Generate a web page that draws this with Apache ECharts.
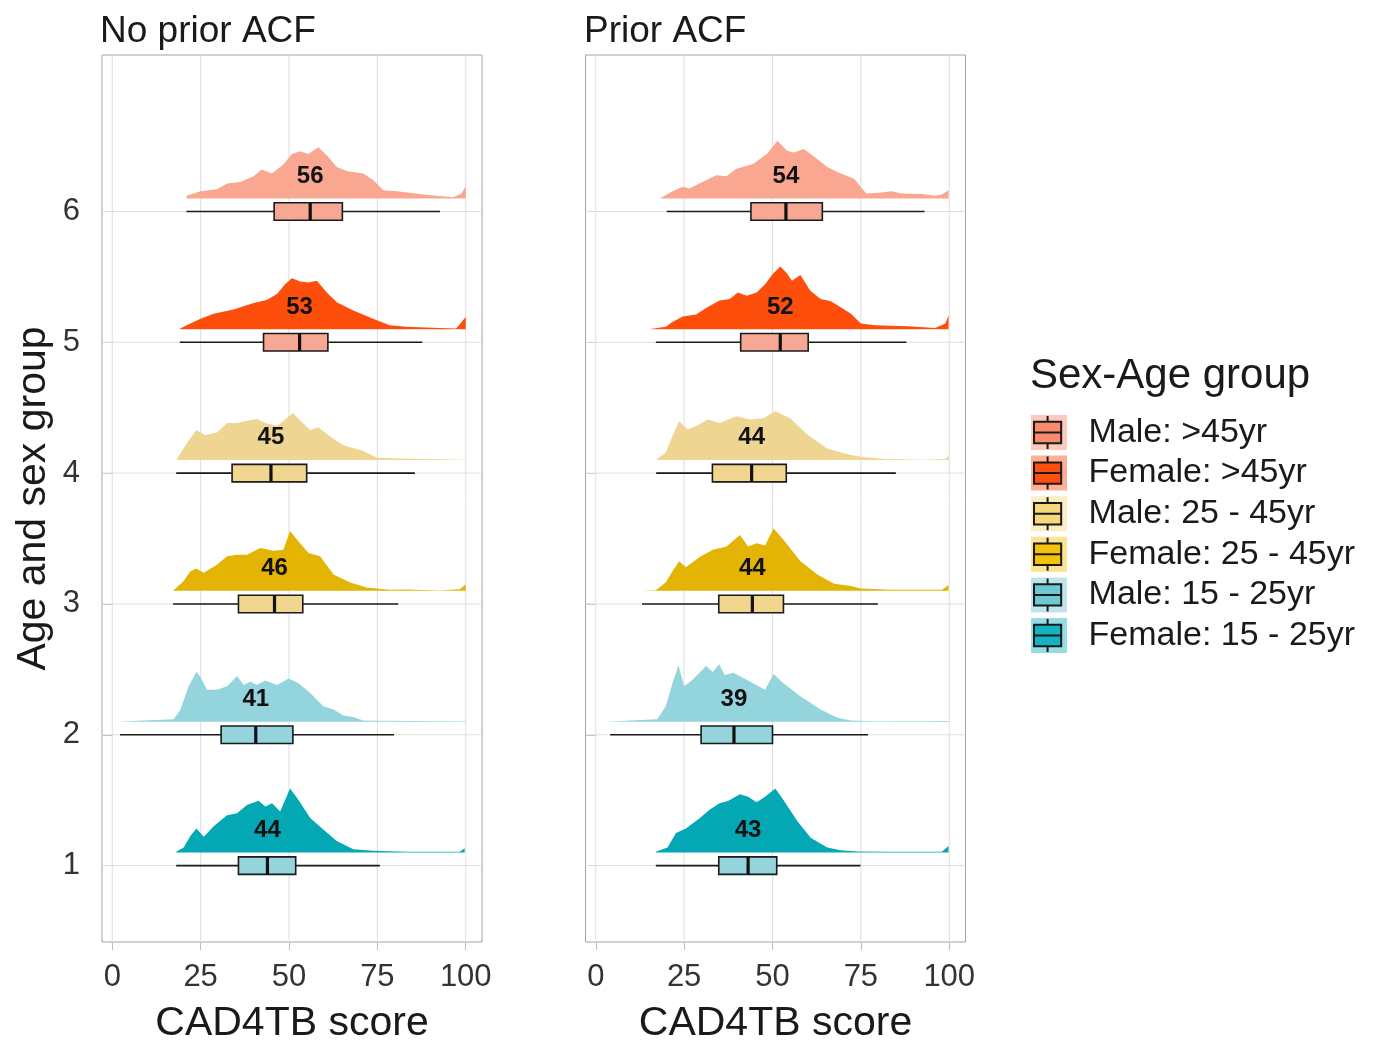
<!DOCTYPE html>
<html lang="en">
<head>
<meta charset="UTF-8">
<title>CAD4TB score by age and sex group</title>
<script src="https://cdn.jsdelivr.net/npm/echarts@6/dist/echarts.min.js"></script>
<style>
  html, body { margin: 0; background: #fff; }
  #main { width: 1374px; height: 1049px; }
</style>
</head>
<body>
<div id="main"></div>
<script>
// groups, bottom (y = 1) to top (y = 6)
var groupNames = ['Female: 15 - 25yr', 'Male: 15 - 25yr', 'Female: 25 - 45yr',
                  'Male: 25 - 45yr', 'Female: >45yr', 'Male: >45yr'];
var legendOrder = ['Male: >45yr', 'Female: >45yr', 'Male: 25 - 45yr',
                   'Female: 25 - 45yr', 'Male: 15 - 25yr', 'Female: 15 - 25yr'];
var panelTitles = ['No prior ACF', 'Prior ACF'];
var xTicks = [0, 25, 50, 75, 100];
var yTicks = [1, 2, 3, 4, 5, 6];

// box stats per group (y = 1..6): [low whisker, q1, median, q3, high whisker]
var boxNoPrior = [[18.1, 35.7, 43.9, 51.9, 75.7], [2.2, 30.8, 40.6, 51.1, 79.7],
                  [17.2, 35.7, 45.9, 53.9, 80.9], [18.1, 33.9, 44.9, 55.0, 85.6],
                  [19.1, 42.8, 53.0, 61.0, 87.7], [21.0, 45.8, 56.0, 65.1, 92.7]];
var boxPrior = [[17.0, 34.8, 43.1, 51.2, 74.9], [4.1, 29.8, 39.1, 50.0, 77.0],
                [13.1, 34.8, 44.3, 53.1, 79.8], [17.1, 33.0, 44.1, 53.9, 84.9],
                [17.0, 41.0, 52.2, 60.1, 87.9], [20.1, 43.9, 53.8, 64.1, 93.0]];

// ridge heights [score, height in group units]
var noPriorF15 = [[18.1,0.005],[20.2,0.038],[22.1,0.126],[23.8,0.183],[25.9,0.12],[28.7,0.2],[32.5,0.284],[35.3,0.3],[38.1,0.364],[41.4,0.395],[43.3,0.352],[45.2,0.377],[47.5,0.314],[50.3,0.49],[52.7,0.402],[56,0.264],[59.7,0.176],[63.5,0.088],[68.2,0.025],[73.8,0.013],[83.2,0.005],[98.3,0.005],[99.7,0.033]];
var noPriorM15 = [[2.5,0.002],[17.4,0.018],[19.3,0.093],[21.6,0.27],[23.8,0.382],[24.9,0.344],[26.8,0.244],[29.6,0.244],[32.5,0.27],[35.3,0.35],[37.2,0.28],[39,0.307],[40.9,0.28],[43.3,0.314],[46.6,0.28],[49.9,0.33],[52.7,0.294],[56,0.22],[59.7,0.118],[62.6,0.093],[65.4,0.048],[68.2,0.035],[71,0.01],[73.8,0.008],[100,0.003]];
var noPriorF25 = [[17.2,0],[20.2,0.075],[22.1,0.15],[23.8,0.17],[25.9,0.138],[29.6,0.2],[32.5,0.264],[35.3,0.276],[38.1,0.276],[41.9,0.327],[45.6,0.307],[48.4,0.314],[50.3,0.457],[52.7,0.377],[55.5,0.29],[58.8,0.264],[62.6,0.126],[67.3,0.063],[72,0.025],[78.5,0.008],[83.2,0.01],[92.7,0.003],[98.3,0.013],[100,0.05]];
var noPriorM25 = [[18.1,0],[21.2,0.133],[23.8,0.229],[26.3,0.19],[29.6,0.21],[32.5,0.284],[35.3,0.284],[38.1,0.3],[41,0.314],[43.3,0.284],[46.6,0.26],[48.9,0.31],[51.1,0.36],[53.6,0.29],[56,0.23],[58.3,0.25],[61.6,0.18],[65.4,0.113],[71,0.07],[74.8,0.02],[78.5,0.013],[88,0.008],[100,0.003]];
var noPriorF45 = [[19.1,0.003],[22.1,0.043],[25,0.08],[28.7,0.118],[34.3,0.15],[40,0.2],[43.7,0.224],[46.6,0.27],[48.9,0.344],[50.8,0.39],[53.2,0.364],[55.5,0.357],[57.9,0.37],[60.7,0.28],[63.5,0.206],[68.2,0.143],[73.8,0.08],[78.5,0.03],[83.2,0.018],[92.7,0.01],[97.3,0.005],[100,0.093]];
var noPriorM45 = [[21,0.02],[25,0.055],[29.6,0.07],[32.5,0.113],[36.2,0.126],[40,0.17],[42.3,0.22],[45.2,0.19],[48.5,0.26],[50.8,0.34],[53.2,0.36],[55.5,0.34],[58.3,0.39],[60.7,0.33],[63.5,0.24],[66.3,0.21],[71,0.19],[73.8,0.14],[76.7,0.063],[80.4,0.055],[84.2,0.043],[88,0.03],[92.7,0.018],[96.4,0.008],[98.8,0.038],[100,0.093]];

var priorF15 = [[17,0.005],[20.3,0.038],[22.7,0.15],[25.5,0.183],[29.3,0.26],[32.2,0.327],[35,0.377],[37.4,0.394],[40.8,0.445],[43.1,0.427],[45.5,0.385],[47.9,0.427],[50.8,0.49],[53.1,0.402],[57,0.24],[60.8,0.113],[65.5,0.038],[69.3,0.018],[74.1,0.008],[83.6,0.005],[97.9,0.005],[99.8,0.05]];
var priorM15 = [[4,0.002],[17.4,0.018],[19.8,0.118],[21.7,0.294],[23.4,0.432],[25,0.27],[27.4,0.32],[31.2,0.425],[33.1,0.38],[34.9,0.44],[36.5,0.357],[38.9,0.375],[42.7,0.32],[47.9,0.244],[50.3,0.364],[53.1,0.294],[57.9,0.194],[63.6,0.093],[68.4,0.03],[72.2,0.01],[78.9,0.003],[99.8,0.005]];
var priorF25 = [[13.1,0.001],[17,0.005],[19.8,0.063],[21.7,0.15],[23.6,0.226],[25.5,0.18],[29.3,0.256],[33.1,0.314],[37,0.34],[40.8,0.427],[43.1,0.34],[45.5,0.364],[47.9,0.347],[50.3,0.477],[53.1,0.39],[57.9,0.226],[62.7,0.126],[67.4,0.055],[72.2,0.038],[75,0.018],[83.6,0.008],[97.9,0.008],[99.8,0.045]];
var priorM25 = [[17,0],[19.8,0.058],[21.7,0.183],[23.6,0.297],[26,0.234],[28.4,0.26],[31.7,0.31],[35,0.284],[39.8,0.334],[43.6,0.31],[47.4,0.32],[50.8,0.372],[55,0.32],[59.8,0.196],[65.5,0.088],[71.2,0.045],[75,0.025],[81.7,0.008],[93.1,0.003],[98.9,0.008],[99.8,0.033]];
var priorF45 = [[15.5,0.002],[19.8,0.018],[21.7,0.055],[24.6,0.098],[28.4,0.113],[31.2,0.163],[35,0.22],[37.9,0.23],[40.2,0.28],[42.7,0.256],[45.5,0.28],[47.9,0.344],[50,0.42],[52.2,0.48],[54,0.43],[55.5,0.37],[57.9,0.415],[60.7,0.294],[63.6,0.23],[66.5,0.214],[69.3,0.168],[72.2,0.118],[75,0.043],[78.9,0.03],[88.4,0.023],[96,0.01],[98.9,0.043],[99.8,0.105]];
var priorM45 = [[18.4,0.003],[21.7,0.055],[24.6,0.088],[26.5,0.075],[29.3,0.113],[34.1,0.176],[37,0.17],[39.8,0.226],[44.6,0.264],[48.4,0.34],[51.4,0.44],[54.1,0.364],[56,0.35],[58.9,0.377],[61.7,0.32],[65.5,0.24],[69.3,0.19],[73.1,0.15],[76.5,0.038],[80.8,0.045],[83.6,0.055],[86.5,0.038],[92.2,0.033],[96,0.02],[97.9,0.03],[99.8,0.063]];

var ridges = [
    [noPriorF15, noPriorM15, noPriorF25, noPriorM25, noPriorF45, noPriorM45],
    [priorF15, priorM15, priorF25, priorM25, priorF45, priorM45]
];
var boxes = [boxNoPrior, boxPrior];

var ridgeColors = ['#04a8b5', '#94d4dc', '#e3b404', '#efd592', '#fd4e0b', '#f9a790'];
var keyColors = ['#15b2c1', '#6ec8d1', '#f5c20b', '#f6d97b', '#ff4f0f', '#f88a6d'];
var boxFill = ['#95d4dc', '#95d4dc', '#f1d68f', '#f1d68f', '#f6a895', '#f6a895'];
var FONT = '"Liberation Sans", Arial, sans-serif';
var X_MIN = -2.9, X_MAX = 104.6, Y_MIN = 0.416, Y_MAX = 7.196;
var BASE = 0.1;

var series = [];
[0, 1].forEach(function (p) {
    // grid lines
    series.push({
        type: 'custom', xAxisIndex: p, yAxisIndex: p, z: 1, silent: true,
        data: yTicks.map(function (v) { return [50, v]; }),
        renderItem: function (params, api) {
            var cs = params.coordSys;
            var pt = api.coord([50, api.value(1)]);
            return { type: 'line', shape: { x1: cs.x, y1: pt[1], x2: cs.x + cs.width, y2: pt[1] },
                     style: { stroke: '#dedede', lineWidth: 1 } };
        }
    });
    series.push({
        type: 'custom', xAxisIndex: p, yAxisIndex: p, z: 1, silent: true,
        data: xTicks.map(function (v) { return [v, 1]; }),
        renderItem: function (params, api) {
            var cs = params.coordSys;
            var pt = api.coord([api.value(0), 1]);
            return { type: 'line', shape: { x1: pt[0], y1: cs.y, x2: pt[0], y2: cs.y + cs.height },
                     style: { stroke: '#dedede', lineWidth: 1 } };
        }
    });
    // ridges
    ridges[p].forEach(function (pts, g) {
        series.push({
            type: 'custom', name: groupNames[g], xAxisIndex: p, yAxisIndex: p, z: 2, silent: true,
            itemStyle: { color: keyColors[g] },
            data: [[50, g + 1]],
            renderItem: function (params, api) {
                var base = api.value(1) + BASE;
                var poly = [api.coord([pts[0][0], base])];
                pts.forEach(function (d) { poly.push(api.coord([d[0], base + d[1]])); });
                poly.push(api.coord([pts[pts.length - 1][0], base]));
                return { type: 'polygon', shape: { points: poly }, style: { fill: ridgeColors[g] } };
            }
        });
    });
    // boxes + median labels
    series.push({
        type: 'custom', xAxisIndex: p, yAxisIndex: p, z: 3, silent: true,
        data: boxes[p].map(function (b, i) { return [b[2], i + 1, b[0], b[1], b[3], b[4]]; }),
        renderItem: function (params, api) {
            var y = api.value(1), med = api.value(0);
            var lo = api.coord([api.value(2), y]), hi = api.coord([api.value(5), y]);
            var q1 = api.coord([api.value(3), y + 0.067]), q3 = api.coord([api.value(4), y - 0.067]);
            var m1 = api.coord([med, y + 0.067]), m2 = api.coord([med, y - 0.067]);
            var lab = api.coord([med, y + 0.27]);
            return { type: 'group', children: [
                { type: 'line', shape: { x1: lo[0], y1: lo[1], x2: hi[0], y2: hi[1] },
                  style: { stroke: '#1a1a1a', lineWidth: 1.6 } },
                { type: 'rect', shape: { x: q1[0], y: q1[1], width: q3[0] - q1[0], height: q3[1] - q1[1] },
                  style: { fill: boxFill[params.dataIndex], stroke: '#1a1a1a', lineWidth: 1.6 } },
                { type: 'line', shape: { x1: m1[0], y1: m1[1], x2: m2[0], y2: m2[1] },
                  style: { stroke: '#111', lineWidth: 3.2 } },
                { type: 'text', x: lab[0], y: lab[1],
                  style: { text: String(Math.round(med)), fill: '#111', align: 'center', verticalAlign: 'middle',
                           font: 'bold 24px ' + FONT } }
            ] };
        }
    });
});

function xAxisFor(p) {
    return {
        gridIndex: p, type: 'value', min: X_MIN, max: X_MAX, minInterval: 25, maxInterval: 25,
        name: 'CAD4TB score', nameLocation: 'middle', nameGap: 61,
        nameTextStyle: { fontSize: 41, color: '#1a1a1a', fontFamily: FONT },
        axisLine: { show: false },
        axisTick: { show: true, length: 8, customValues: xTicks, lineStyle: { color: '#bdbdbd' } },
        axisLabel: { customValues: xTicks, fontSize: 31, color: '#333', margin: 20, fontFamily: FONT,
                     formatter: function (v) { return xTicks.indexOf(v) >= 0 ? String(v) : ''; } },
        splitLine: { show: false }
    };
}
function yAxisFor(p) {
    return {
        gridIndex: p, type: 'value', min: Y_MIN, max: Y_MAX, minInterval: 1, maxInterval: 1,
        name: p === 0 ? 'Age and sex group' : '', nameLocation: 'middle', nameGap: 48,
        nameTextStyle: { fontSize: 41, color: '#1a1a1a', fontFamily: FONT },
        axisLine: { show: false },
        axisTick: { show: true, length: 10, customValues: yTicks, lineStyle: { color: '#bdbdbd' } },
        axisLabel: { show: p === 0, customValues: yTicks, fontSize: 31, color: '#333', margin: 22, fontFamily: FONT,
                     formatter: function (v) { return yTicks.indexOf(v) >= 0 ? String(v) : ''; } },
        splitLine: { show: false }
    };
}

// legend keys: a light square behind a small box-plot glyph
function legendFor(isHalo) {
    return {
        orient: 'vertical', left: isHalo ? 1031 : 1033, top: 415, padding: 0, z: isHalo ? 3 : 4,
        itemWidth: isHalo ? 36 : 32, itemHeight: isHalo ? 35 : 33, itemGap: 5.6,
        data: legendOrder,
        icon: isHalo ? 'rect' : 'path://M2,6 H30 V28 H2 Z M2,17 H30 M16,0 V6 M16,28 V34',
        itemStyle: isHalo ? { opacity: 0.45, borderWidth: 0 } : { borderColor: '#1a1a1a', borderWidth: 2 },
        textStyle: { fontSize: 34, color: isHalo ? 'rgba(0,0,0,0)' : '#1a1a1a', fontFamily: FONT,
                     padding: [0, 0, 0, isHalo ? 16 : 20] },
        selectedMode: false
    };
}

var option = {
    backgroundColor: '#fff',
    animation: false,
    title: [
        { text: panelTitles[0], left: 100, top: 13, padding: 0,
          textStyle: { fontSize: 37, fontWeight: 'normal', color: '#1a1a1a', fontFamily: FONT } },
        { text: panelTitles[1], left: 584, top: 13, padding: 0,
          textStyle: { fontSize: 37, fontWeight: 'normal', color: '#1a1a1a', fontFamily: FONT } },
        { text: 'Sex-Age group', left: 1030, top: 355, padding: 0,
          textStyle: { fontSize: 42, fontWeight: 'normal', color: '#1a1a1a', fontFamily: FONT } }
    ],
    legend: [legendFor(true), legendFor(false)],
    grid: [
        { left: 102, top: 55, width: 380, height: 897, show: true, borderColor: '#a3a3a3', borderWidth: 1 },
        { left: 585.5, top: 55, width: 380, height: 897, show: true, borderColor: '#a3a3a3', borderWidth: 1 }
    ],
    xAxis: [xAxisFor(0), xAxisFor(1)],
    yAxis: [yAxisFor(0), yAxisFor(1)],
    series: series
};

var myChart = echarts.init(document.getElementById('main'));
myChart.setOption(option);
</script>
</body>
</html>
